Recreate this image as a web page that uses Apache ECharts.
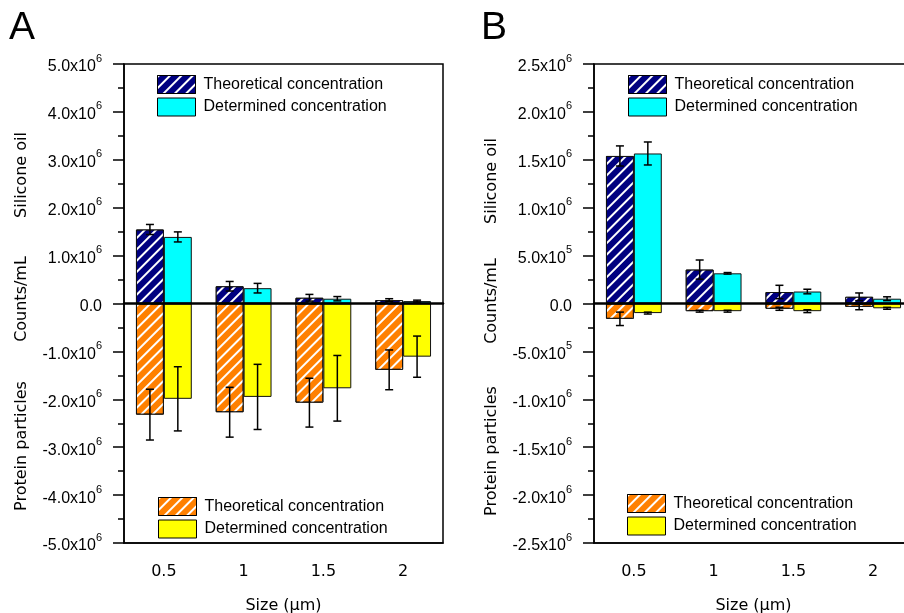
<!DOCTYPE html>
<html><head><meta charset="utf-8">
<script src="https://cdn.jsdelivr.net/npm/echarts@6/dist/echarts.min.js"></script>
<style>html,body{margin:0;padding:0;background:#fff}#c{width:904px;height:613px}</style>
</head><body><div id="c"></div>
<script>
// ---------- DATA ----------
const categories = ['0.5', '1', '1.5', '2'];

// Panel A
const aTheoSil     = [1.545e6, 0.36e6, 0.12e6, 0.07e6];
const aTheoSilErr  = [0.105e6, 0.10e6, 0.07e6, 0.03e6];
const aDetSil      = [1.39e6, 0.32e6, 0.10e6, 0.05e6];
const aDetSilErr   = [0.105e6, 0.10e6, 0.045e6, 0.02e6];
const aTheoProt    = [-2.32e6, -2.27e6, -2.07e6, -1.385e6];
const aTheoProtErr = [0.53e6, 0.52e6, 0.51e6, 0.415e6];
const aDetProt     = [-1.99e6, -1.95e6, -1.77e6, -1.11e6];
const aDetProtErr  = [0.67e6, 0.68e6, 0.685e6, 0.43e6];

// Panel B
const bTheoSil     = [1.54e6, 0.354e6, 0.12e6, 0.07e6];
const bTheoSilErr  = [0.105e6, 0.10e6, 0.07e6, 0.04e6];
const bDetSil      = [1.566e6, 0.315e6, 0.125e6, 0.05e6];
const bDetSilErr   = [0.12e6, 0.008e6, 0.024e6, 0.02e6];
const bTheoProt    = [-0.16e6, -0.08e6, -0.055e6, -0.035e6];
const bTheoProtErr = [0.07e6, 0.01e6, 0.016e6, 0.03e6];
const bDetProt     = [-0.10e6, -0.08e6, -0.08e6, -0.05e6];
const bDetProtErr  = [0.01e6, 0.01e6, 0.015e6, 0.01e6];

// Tick labels
const yTickValsA = [-5e6, -4e6, -3e6, -2e6, -1e6, 0, 1e6, 2e6, 3e6, 4e6, 5e6];
const yTickLabelsA = ['-5.0x10^6', '-4.0x10^6', '-3.0x10^6', '-2.0x10^6', '-1.0x10^6', '0.0',
  '1.0x10^6', '2.0x10^6', '3.0x10^6', '4.0x10^6', '5.0x10^6'];
const yTickValsB = [-2.5e6, -2e6, -1.5e6, -1e6, -0.5e6, 0, 0.5e6, 1e6, 1.5e6, 2e6, 2.5e6];
const yTickLabelsB = ['-2.5x10^6', '-2.0x10^6', '-1.5x10^6', '-1.0x10^6', '-5.0x10^5', '0.0',
  '5.0x10^5', '1.0x10^6', '1.5x10^6', '2.0x10^6', '2.5x10^6'];

const legendTheo = 'Theoretical concentration';
const legendDet = 'Determined concentration';
const xTitle = 'Size (µm)';
const yTitles = ['Silicone oil', 'Counts/mL', 'Protein particles'];

// ---------- STYLE ----------
const C_NAVY = '#000080', C_CYAN = '#00FFFF', C_ORANGE = '#FF8000', C_YELLOW = '#FFFF00';
const hatch = { symbol: 'rect', symbolSize: 1, dashArrayX: [1, 0], dashArrayY: [1.2, 5.8], rotation: -Math.PI / 4, color: '#ffffff' };
const TICK_FONT = 'Liberation Sans';
const LABEL_FONT = 'DejaVu Sans';

function yFmt(vals, labels) {
  return function (v) {
    const i = vals.findIndex(t => Math.abs(t - v) < 1);
    if (i < 0) return '';
    const p = labels[i].split('^');
    return p.length > 1 ? '{m|' + p[0] + '}{s|' + p[1] + '}' : '{m|' + p[0] + '}';
  };
}

const legendMap = {};
function panel(idx, prefix, yMin, yMax, yInt, tv, tl, d) {
  const gridIndex = idx;
  const xBase = idx * 3;
  const xAxes = [
    { type: 'category', gridIndex, data: categories, position: 'bottom',
      axisLine: { onZero: false, lineStyle: { color: '#000', width: 1.5 } },
      axisTick: { alignWithLabel: true, length: 12, lineStyle: { color: '#000', width: 1.5 } },
      axisLabel: { fontFamily: LABEL_FONT, fontSize: 16, color: '#000', margin: 21 },
      name: xTitle, nameLocation: 'middle', nameGap: 55,
      nameTextStyle: { fontFamily: LABEL_FONT, fontSize: 16, color: '#000' } },
    { type: 'category', gridIndex, data: categories, position: 'bottom', z: 10,
      axisLine: { onZero: true, lineStyle: { color: '#000', width: 2.5 } },
      axisTick: { alignWithLabel: true, length: 10, lineStyle: { color: '#000', width: 1.5 } },
      axisLabel: { show: false } },
    { type: 'category', gridIndex, data: categories, position: 'bottom', z: 10,
      axisLine: { show: false, onZero: true },
      axisTick: { alignWithLabel: false, length: 5, lineStyle: { color: '#000', width: 1.5 } },
      axisLabel: { show: false } }
  ];
  const yAxis = { type: 'value', gridIndex, min: yMin, max: yMax, interval: yInt,
    splitLine: { show: false },
    axisLine: { show: true, lineStyle: { color: '#000', width: 1.5 } },
    axisTick: { show: true, length: 11, lineStyle: { color: '#000', width: 1.5 } },
    minorTick: { show: true, splitNumber: 2, length: 6, lineStyle: { color: '#000', width: 1.5 } },
    axisLabel: { margin: 22, formatter: yFmt(tv, tl),
      rich: {
        m: { fontFamily: TICK_FONT, fontSize: 16, color: '#000', lineHeight: 22, verticalAlign: 'bottom' },
        s: { fontFamily: TICK_FONT, fontSize: 11, color: '#000', lineHeight: 11, verticalAlign: 'top' }
      } } };

  const names = {
    ts: prefix + ' theoretical silicone', ds: prefix + ' determined silicone',
    tp: prefix + ' theoretical protein', dp: prefix + ' determined protein'
  };
  legendMap[names.ts] = legendTheo; legendMap[names.tp] = legendTheo;
  legendMap[names.ds] = legendDet; legendMap[names.dp] = legendDet;

  const bar = (name, data, color, stack, decal) => ({
    type: 'bar', name, data, stack, xAxisIndex: xBase, yAxisIndex: idx,
    barGap: '0%', barCategoryGap: '30%', z: 2,
    itemStyle: Object.assign({ color, borderColor: '#111', borderWidth: 1 }, decal ? { decal } : {})
  });
  const err = (vals, errs, side) => ({
    type: 'custom', xAxisIndex: xBase, yAxisIndex: idx, z: 5, silent: true,
    data: vals.map((v, i) => [i, v, errs[i]]),
    encode: { x: 0, y: 1 },
    renderItem: function (params, api) {
      const i = api.value(0), v = api.value(1), e = api.value(2);
      const c = api.coord([i, v]);
      const band = api.size([1, 0])[0];
      const x = c[0] + side * band * 0.35 / 2;
      const yt = api.coord([i, v + e])[1], yb = api.coord([i, v - e])[1];
      const cw = 4;
      const st = { stroke: '#000', lineWidth: 1.5 };
      return { type: 'group', children: [
        { type: 'line', shape: { x1: x, y1: yt, x2: x, y2: yb }, style: st },
        { type: 'line', shape: { x1: x - cw, y1: yt, x2: x + cw, y2: yt }, style: st },
        { type: 'line', shape: { x1: x - cw, y1: yb, x2: x + cw, y2: yb }, style: st }
      ] };
    }
  });
  const series = [
    bar(names.ts, d.ts, C_NAVY, prefix + 'theo', hatch),
    bar(names.ds, d.ds, C_CYAN, prefix + 'det', null),
    bar(names.tp, d.tp, C_ORANGE, prefix + 'theo', hatch),
    bar(names.dp, d.dp, C_YELLOW, prefix + 'det', null),
    err(d.ts, d.tse, -1), err(d.ds, d.dse, 1), err(d.tp, d.tpe, -1), err(d.dp, d.dpe, 1)
  ];
  return { xAxes, yAxis, series, names };
}

const pA = panel(0, 'A', -5e6, 5e6, 1e6, yTickValsA, yTickLabelsA,
  { ts: aTheoSil, tse: aTheoSilErr, ds: aDetSil, dse: aDetSilErr, tp: aTheoProt, tpe: aTheoProtErr, dp: aDetProt, dpe: aDetProtErr });
const pB = panel(1, 'B', -2.5e6, 2.5e6, 0.5e6, yTickValsB, yTickLabelsB,
  { ts: bTheoSil, tse: bTheoSilErr, ds: bDetSil, dse: bDetSilErr, tp: bTheoProt, tpe: bTheoProtErr, dp: bDetProt, dpe: bDetProtErr });

function legend(data, left, top) {
  return { data, orient: 'vertical', left, top, padding: 0, itemWidth: 38, itemHeight: 18, itemGap: 3.5,
    selectedMode: false, icon: 'rect',
    formatter: n => legendMap[n],
    itemStyle: { borderColor: '#000', borderWidth: 1 },
    textStyle: { fontFamily: TICK_FONT, fontSize: 16, color: '#000', padding: [0, 0, 0, 3] } };
}

function ytitle(x, y, text) {
  return { type: 'text', x, y, rotation: Math.PI / 2,
    style: { text, font: '16px "DejaVu Sans"', fill: '#000', align: 'center', verticalAlign: 'middle' } };
}

const option = {
  animation: false,
  backgroundColor: '#fff',
  grid: [
    { left: 124, top: 64, width: 319, height: 479, show: true, borderColor: '#000', borderWidth: 1.5, containLabel: false, outerBoundsMode: 'none' },
    { left: 594, top: 64, width: 319, height: 479, show: true, borderColor: '#000', borderWidth: 1.5, containLabel: false, outerBoundsMode: 'none' }
  ],
  xAxis: pA.xAxes.concat(pB.xAxes),
  yAxis: [pA.yAxis, pB.yAxis],
  legend: [
    legend([pA.names.ts, pA.names.ds], 157, 75),
    legend([pA.names.tp, pA.names.dp], 158, 497),
    legend([pB.names.ts, pB.names.ds], 628, 75),
    legend([pB.names.tp, pB.names.dp], 627, 494)
  ],
  series: pA.series.concat(pB.series),
  graphic: [
    { type: 'text', x: 22, y: 28, style: { text: 'A', font: '39px "Liberation Sans"', fill: '#000', align: 'center', verticalAlign: 'middle' } },
    { type: 'text', x: 494, y: 28, style: { text: 'B', font: '39px "Liberation Sans"', fill: '#000', align: 'center', verticalAlign: 'middle' } },
    ytitle(22, 175, yTitles[0]), ytitle(22, 299, yTitles[1]), ytitle(22, 446, yTitles[2]),
    ytitle(492, 181, yTitles[0]), ytitle(492, 301, yTitles[1]), ytitle(492, 451, yTitles[2])
  ]
};

const chart = echarts.init(document.getElementById('c'));
chart.setOption(option);
</script>
</body></html>
